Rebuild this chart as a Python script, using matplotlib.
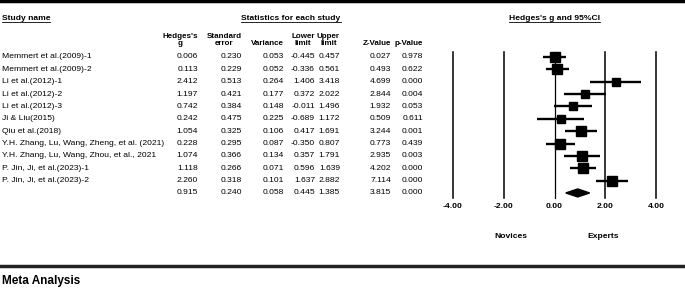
import numpy as np
import matplotlib.pyplot as plt
from matplotlib.patches import Polygon

plt.rcParams['font.family'] = ['Liberation Sans', 'DejaVu Sans']

# Данные
studies = ["Memmert et al.(2009)-1", "Memmert et al.(2009)-2", "Li et al.(2012)-1",
           "Li et al.(2012)-2", "Li et al.(2012)-3", "Ji & Liu(2015)", "Qiu et al.(2018)",
           "Y.H. Zhang, Lu, Wang, Zheng, et al. (2021)", "Y.H. Zhang, Lu, Wang, Zhou, et al., 2021",
           "P. Jin, Ji, et al.(2023)-1", "P. Jin, Ji, et al.(2023)-2"]
g = [0.006, 0.113, 2.412, 1.197, 0.742, 0.242, 1.054, 0.228, 1.074, 1.118, 2.260]
se = [0.230, 0.229, 0.513, 0.421, 0.384, 0.475, 0.325, 0.295, 0.366, 0.266, 0.318]
var = [0.053, 0.052, 0.264, 0.177, 0.148, 0.225, 0.106, 0.087, 0.134, 0.071, 0.101]
lower = [-0.445, -0.336, 1.406, 0.372, -0.011, -0.689, 0.417, -0.350, 0.357, 0.596, 1.637]
upper = [0.457, 0.561, 3.418, 2.022, 1.496, 1.172, 1.691, 0.807, 1.791, 1.639, 2.882]
zval = [0.027, 0.493, 4.699, 2.844, 1.932, 0.509, 3.244, 0.773, 2.935, 4.202, 7.114]
pval = [0.978, 0.622, 0.000, 0.004, 0.053, 0.611, 0.001, 0.439, 0.003, 0.000, 0.000]
summary = [0.915, 0.240, 0.058, 0.445, 1.385, 3.815, 0.000]

ticks = [-4, -2, 0, 2, 4]

W, H = 685, 292
fig = plt.figure(figsize=(W / 100, H / 100), dpi=100)
ax = fig.add_axes([0, 0, 1, 1])
ax.set_xlim(0, W)
ax.set_ylim(H, 0)
ax.axis('off')

fs = 6.1
fh = 6.1
fc = 5.8
row_y0, row_dy = 57, 12.36
rows_y = [row_y0 + row_dy * i for i in range(len(studies) + 1)]

# линии сверху и снизу
ax.plot([0, W], [1, 1], color='black', lw=2.5)
ax.plot([0, W], [266, 266], color='#222222', lw=2.5)
ax.text(2, 281, "Meta Analysis", fontsize=8.5, fontweight='bold', va='center', ha='left')

# заголовки
hdr = []
hdr.append(ax.text(2, 18, "Study name", fontsize=fh, fontweight='bold', va='center', ha='left'))
hdr.append(ax.text(291, 18, "Statistics for each study", fontsize=fh, fontweight='bold', va='center', ha='center'))
hdr.append(ax.text(555, 18, "Hedges's g and 95%CI", fontsize=fh, fontweight='bold', va='center', ha='center'))

col_x = [198, 242, 284, 315, 340, 391, 423]
col_names = ["Hedges's\ng", "Standard\nerror", "Variance", "Lower\nlimit", "Upper\nlimit", "Z-Value", "p-Value"]
for x, name in zip(col_x, col_names):
    ax.text(x, 45, name, fontsize=fc, fontweight='bold', va='baseline', ha='right',
            multialignment='center', linespacing=0.95)

# таблица
cols = [g, se, var, lower, upper, zval, pval]
for i, name in enumerate(studies):
    y = rows_y[i]
    ax.text(2, y, name, fontsize=fs, va='center', ha='left')
    for x, c in zip(col_x, cols):
        ax.text(x, y, f"{c[i]:.3f}", fontsize=fs, va='center', ha='right')
for x, v in zip(col_x, summary):
    ax.text(x, rows_y[-1], f"{v:.3f}", fontsize=fs, va='center', ha='right')

# forest plot
fx0, fx1 = 453, 656
fa = fig.add_axes([fx0 / W, 0, (fx1 - fx0) / W, 1])
fa.set_xlim(-4, 4)
fa.set_ylim(H, 0)
fa.axis('off')
for t in ticks:
    fa.plot([t, t], [52, 198], color='black', lw=1.1 if t != 0 else 0.9, clip_on=False)
    fa.text(t, 207, f"{t:.2f}", fontsize=fh, fontweight='bold', ha='center', va='center', clip_on=False)
fa.text(-1.7, 237, "Novices", fontsize=fh, fontweight='bold', ha='center', va='center')
fa.text(1.9, 237, "Experts", fontsize=fh, fontweight='bold', ha='center', va='center')

# веса (random effects, DerSimonian-Laird)
v = np.array(var)
w = 1 / v
gg = np.array(g)
q = np.sum(w * (gg - np.sum(w * gg) / np.sum(w)) ** 2)
c = np.sum(w) - np.sum(w ** 2) / np.sum(w)
tau2 = max(0, (q - (len(g) - 1)) / c)
wr = 1 / (v + tau2)
sizes = 7.0 * np.sqrt(wr / wr.max())

for i in range(len(studies)):
    y = rows_y[i]
    fa.plot([lower[i], upper[i]], [y, y], color='black', lw=1.7, solid_capstyle='butt')
    fa.plot(g[i], y, marker='s', color='black', ms=sizes[i], mec='black')

ys = rows_y[-1]
fa.add_patch(Polygon([[summary[3], ys], [summary[0], ys - 4], [summary[4], ys], [summary[0], ys + 4]],
                     closed=True, color='black'))

# подчёркивания заголовков
fig.canvas.draw()
r = fig.canvas.get_renderer()
for t in hdr:
    bb = t.get_window_extent(r)
    yy = H - bb.y0 + 0.5
    ax.plot([bb.x0, bb.x1], [yy, yy], color='black', lw=0.6)

fig.savefig('out.png', dpi=100)
